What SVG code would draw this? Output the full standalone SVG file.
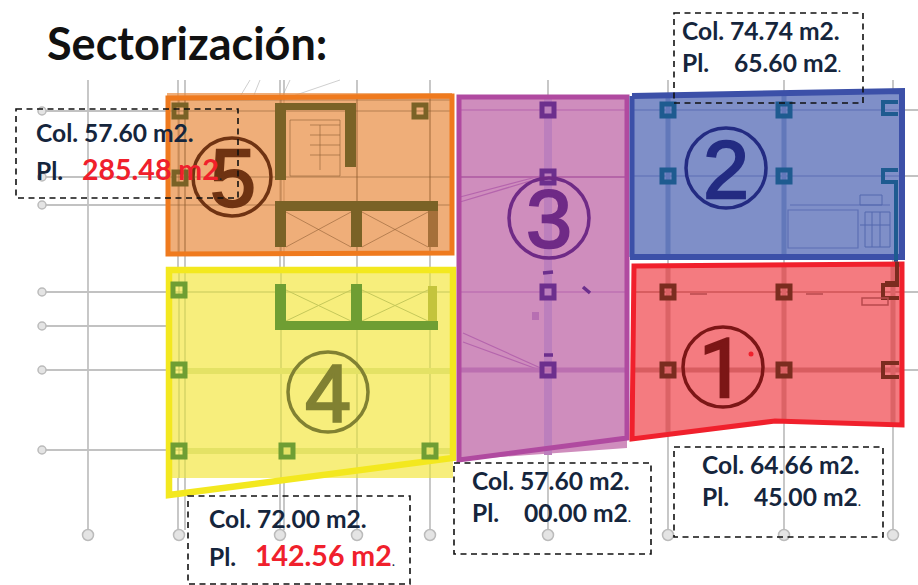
<svg xmlns="http://www.w3.org/2000/svg" width="918" height="585" viewBox="0 0 918 585">
<style>
.grid{stroke:#c2c2c2;stroke-width:1.8;fill:none}
.thin{stroke:#999;stroke-width:.8;fill:none;opacity:.6}
.bub{fill:#e4e4e4;stroke:#bbb;stroke-width:1.5}
.box{fill:none;stroke:#111;stroke-width:1.6;stroke-dasharray:6 4.5}
.t{font-family:Lato,"Liberation Sans",sans-serif;font-weight:700;font-size:24.6px;fill:#15253c}
.r{fill:#f0202c;font-size:28.5px}
.d{font-size:14px;font-weight:400}
.num{font-family:"Liberation Sans",sans-serif;font-size:82px;text-anchor:middle;stroke-width:2.4}
.c{fill:none;stroke-width:5}
.o{stroke:#7a6226}.y{stroke:#6f9e33}.p{stroke:#6c2f8d}.b{stroke:#1e5b90}.e{stroke:#7b2c1f}
</style>
<rect width="918" height="585" fill="#fff"/>
<text x="47" y="60" style="font-family:Lato,'Liberation Sans',sans-serif;font-weight:700;font-size:45px;fill:#111">Sectorización:</text>
<g id="connectors">
<path class="grid" d="M46 111H167M46 177H167M46 205H167M46 292H167M46 326H167M46 370H167M46 450H167"/>
<path class="grid" d="M88 80V530M178 80V530M185 80V530M280 80V530M284 80V530M357 80V530M430 80V530M548 80V530M668 80V530M784 80V530M893 80V530M895 110H918M895 176H918M895 292H918M895 370H918"/>
<path class="thin" d="M238 100L250 80M252 100L260 80M283 95L290 80M290 97L340 80"/>
<circle class="bub" cx="42" cy="111" r="4"/><circle class="bub" cx="42" cy="177" r="4"/><circle class="bub" cx="42" cy="205" r="4"/><circle class="bub" cx="42" cy="292" r="4"/><circle class="bub" cx="42" cy="326" r="4"/><circle class="bub" cx="42" cy="370" r="4"/><circle class="bub" cx="42" cy="450" r="4"/>
<circle class="bub" cx="88" cy="535" r="5.5"/><circle class="bub" cx="179" cy="535" r="5.5"/><circle class="bub" cx="280" cy="535" r="5.5"/><circle class="bub" cx="357" cy="535" r="5.5"/><circle class="bub" cx="430" cy="535" r="5.5"/><circle class="bub" cx="548" cy="535" r="5.5"/><circle class="bub" cx="668" cy="535" r="5.5"/><circle class="bub" cx="784" cy="535" r="5.5"/><circle class="bub" cx="893" cy="535" r="5.5"/>
</g>
<g id="node-5">
<rect x="167" y="93" width="285" height="160" fill="#e98f45" opacity=".72"/>
<path d="M168 100H452M168 111H452M168 177H452M168 205H452M179 96V252M185 96V252M281 96V252M357 96V252M430 96V252M290 120H340V176H290ZM310 125H340M310 135H340M310 145H340M310 155H340M320 125V170M286 212L351 247M351 212L286 247M362 212L428 247M428 212L362 247" stroke="#8a5a30" stroke-width=".8" fill="none" opacity=".7"/>
<path d="M168 98L452 96V253L168 254Z" fill="none" stroke="#ef7a1e" stroke-width="5"/>
<path d="M275 103H356V167H345V110H286V180H275ZM275 201H438V211H362V247H351V211H286V247H275Z" fill="#7a6226"/>
<rect x="428" y="211" width="10" height="36" fill="#a5703a"/>
<rect class="c o" x="174" y="105" width="12" height="12"/><rect class="c o" x="414" y="105" width="12" height="12"/><rect class="c o" x="174" y="172" width="12" height="12"/>
<circle cx="232" cy="177" r="39" fill="none" stroke="#6f3312" stroke-width="3.5"/>
<text class="num" x="233" y="206" fill="#6f3312" stroke="#6f3312">5</text>
</g>
<g id="node-4">
<rect x="167" y="268" width="286" height="210" fill="#f7ee7c"/>
<path d="M168 292H452M168 370H452M168 450H452M179 268V478M185 268V478M281 268V478M357 268V478M430 268V478M286 290L351 321M351 290L286 321M362 290L428 321M428 290L362 321" stroke="#c5c85a" stroke-width="1" fill="none"/>
<path d="M186 371H452M186 451H452" stroke="#e4e265" stroke-width="6" fill="none"/>
<path d="M169 270H453V458L169 495Z" fill="none" stroke="#f3e81f" stroke-width="6.5"/>
<path d="M275 284H286V321H351V284H362V321H438V330H275Z" fill="#6f9e33"/>
<rect x="428" y="286" width="9" height="35" fill="#c4c43c"/>
<rect class="c y" x="173" y="284" width="12" height="12"/><rect class="c y" x="173" y="364" width="12" height="12"/><rect class="c y" x="173" y="445" width="12" height="12"/><rect class="c y" x="281" y="445" width="12" height="12"/><rect class="c y" x="424" y="445" width="12" height="12"/>
<circle cx="328" cy="392" r="40" fill="none" stroke="#818132" stroke-width="3.5"/>
<text class="num" x="328" y="422" fill="#818132" stroke="#818132">4</text>
</g>
<g id="node-3">
<path d="M458 95H627V448L458 460Z" fill="#cf8dbd"/>
<path d="M460 110H627M460 292H627M460 202L540 178M460 197L540 176M463 333L545 370M463 342L545 372" stroke="#b565ad" stroke-width="1.2" fill="none"/>
<path d="M548 95V455" stroke="#bc7fbd" stroke-width="8" fill="none"/>
<path d="M460 177H627" stroke="#b565a8" stroke-width="2" fill="none"/>
<path d="M460 370H627" stroke="#bb6fb0" stroke-width="5" fill="none"/>
<path d="M459 97H627V438L459 460Z" fill="none" stroke="#b04aa0" stroke-width="5"/>
<rect class="c p" x="542" y="104" width="12" height="12"/><rect class="c p" x="542" y="171" width="12" height="12"/><rect class="c p" x="542" y="286" width="12" height="12"/><rect class="c p" x="542" y="364" width="12" height="12"/>
<path d="M543 273l10-1M583 287l7 6M544 355h9" stroke="#6c2f8d" stroke-width="3.5" fill="none"/>
<rect x="532" y="312" width="7" height="8" fill="#b76fb2"/>
<circle cx="549" cy="218" r="40" fill="none" stroke="#6f2a86" stroke-width="3.5"/>
<text class="num" x="549" y="247" fill="#6f2a86" stroke="#6f2a86">3</text>
</g>
<g id="node-2">
<path d="M632 95L902 90V257H632Z" fill="#7f8fc8"/>
<path d="M632 110H902M632 176H902M790 205H890M788 210H858V248H788Z" stroke="#5c6fb4" stroke-width="1.2" fill="none"/>
<path d="M668 95V257M784 95V257" stroke="#6278ba" stroke-width="5" fill="none"/>
<path d="M860 195h22v10h-22ZM865 212h25v35h-25ZM872 212v35M880 212v35M860 225h30" stroke="#5468ae" stroke-width="1" fill="none"/>
<path d="M632 96L902 91V257H630" fill="none" stroke="#3c50a8" stroke-width="6"/>
<path d="M632 96V257" stroke="#3c50a8" stroke-width="5"/>
<rect class="c b" x="662" y="104" width="12" height="12"/><rect class="c b" x="778" y="104" width="12" height="12"/><rect class="c b" x="662" y="170" width="12" height="12"/><rect class="c b" x="778" y="170" width="12" height="12"/>
<path d="M898 102H883V114H898M898 170H883V182H896V262" fill="none" stroke="#1e5b90" stroke-width="4"/>
<circle cx="726" cy="168" r="40" fill="none" stroke="#232b82" stroke-width="3.5"/>
<text class="num" x="726" y="198" fill="#232b82" stroke="#232b82">2</text>
</g>
<g id="node-1">
<path d="M634 266L902 264V425L775 421L634 438Z" fill="#f47b80"/>
<path d="M634 370H902" stroke="#d85d60" stroke-width="5" fill="none"/>
<path d="M634 292H902" stroke="#d85d60" stroke-width="2" fill="none"/>
<path d="M668 266V432M784 266V421M893 266V425" stroke="#dc6366" stroke-width="5" fill="none"/>
<path d="M634 266L902 264V425L775 421L632 439Z" fill="none" stroke="#f0202c" stroke-width="5"/>
<rect class="c e" x="662" y="286" width="12" height="12"/><rect class="c e" x="778" y="286" width="12" height="12"/><rect class="c e" x="662" y="364" width="12" height="12"/><rect class="c e" x="778" y="364" width="12" height="12"/>
<path d="M899 285H883V298H899M899 363H883V377H899M897 262V283H885" fill="none" stroke="#7b2c1f" stroke-width="4"/>
<path d="M690 294h17M806 294h17M862 298h26v7h-26Z" stroke="#b84a4c" stroke-width="1.5" fill="none"/>
<circle cx="751" cy="354" r="2.5" fill="#f0202c"/>
<circle cx="723" cy="367" r="40" fill="none" stroke="#7c1616" stroke-width="3.5"/>
<text class="num" x="722" y="397" fill="#7c1616" stroke="#7c1616" style="font-family:Roboto,sans-serif">1</text>
</g>
<g id="label-5">
<rect class="box" x="16" y="109" width="222" height="89"/>
<text class="t" x="36" y="142">Col. 57.60 m2.</text>
<text class="t" x="36" y="180">Pl.</text>
<text class="t r" x="82" y="180">285.48 m2<tspan class="d" fill="#15253c">.</tspan></text>
</g>
<g id="label-4">
<rect class="box" x="188" y="496" width="222" height="88"/>
<text class="t" x="209" y="528">Col. 72.00 m2.</text>
<text class="t" x="209" y="566">Pl.</text>
<text class="t r" x="255" y="566">142.56 m2<tspan class="d" fill="#15253c">.</tspan></text>
</g>
<g id="label-3">
<rect class="box" x="454" y="463" width="197" height="91"/>
<text class="t" x="472" y="490">Col. 57.60 m2.</text>
<text class="t" x="472" y="522">Pl.</text>
<text class="t" x="524" y="522">00.00 m2<tspan class="d">.</tspan></text>
</g>
<g id="label-2">
<rect class="box" x="674" y="13" width="189" height="90"/>
<text class="t" x="682" y="40">Col. 74.74 m2.</text>
<text class="t" x="682" y="72">Pl.</text>
<text class="t" x="734" y="72">65.60 m2<tspan class="d">.</tspan></text>
</g>
<g id="label-1">
<rect class="box" x="674" y="447" width="209" height="90"/>
<text class="t" x="702" y="474">Col. 64.66 m2.</text>
<text class="t" x="702" y="506">Pl.</text>
<text class="t" x="754" y="506">45.00 m2<tspan class="d">.</tspan></text>
</g>
</svg>
